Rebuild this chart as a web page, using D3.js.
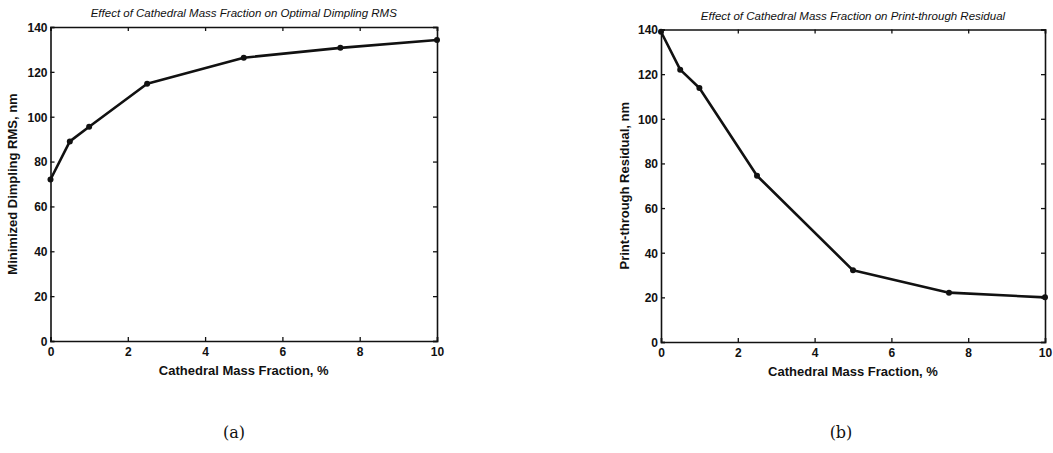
<!DOCTYPE html>
<html>
<head>
<meta charset="utf-8">
<script src="https://cdn.jsdelivr.net/npm/d3@7"></script>
<style>
  html, body { margin: 0; padding: 0; background: #fff; }
  svg { display: block; }
  .tick text { font-family: "Liberation Sans", Arial, sans-serif; font-weight: bold; font-size: 12px; fill: #111; }
</style>
</head>
<body>
<svg id="chart" width="1053" height="453"></svg>
<script>
// Cathedral mass fraction (%) sampled in both studies
const massFraction = [0, 0.5, 1, 2.5, 5, 7.5, 10];
// (a) minimized dimpling RMS, nm
const dimplingRMS = [72, 89, 95.5, 114.7, 126.3, 130.7, 134.2];
// (b) print-through residual, nm
const printThrough = [139, 122, 113.8, 74.5, 32.1, 22.1, 20];

const xTicks = [0, 2, 4, 6, 8, 10];
const yTicks = [0, 20, 40, 60, 80, 100, 120, 140];

const panels = [
  {
    title: "Effect of Cathedral Mass Fraction on Optimal Dimpling RMS",
    yLabel: "Minimized Dimpling RMS, nm",
    caption: "(a)",
    values: dimplingRMS,
    left: 50.5, right: 437, top: 27, bottom: 341,
    yLabelX: 12, captionX: 234
  },
  {
    title: "Effect of Cathedral Mass Fraction on Print-through Residual",
    yLabel: "Print-through Residual, nm",
    caption: "(b)",
    values: printThrough,
    left: 661, right: 1045, top: 29.5, bottom: 342,
    yLabelX: 624, captionX: 841
  }
];

const svg = d3.select("#chart");

panels.forEach(p => {
  const x = d3.scaleLinear().domain([0, 10]).range([p.left, p.right]);
  const y = d3.scaleLinear().domain([0, 140]).range([p.bottom, p.top]);
  const g = svg.append("g");

  // inward ticks on all four sides (boxed axes)
  const axB = g.append("g").attr("transform", `translate(0,${p.bottom})`)
    .call(d3.axisBottom(x).tickValues(xTicks).tickSize(-4).tickPadding(4).tickFormat(d3.format("d")));
  const axT = g.append("g").attr("transform", `translate(0,${p.top})`)
    .call(d3.axisTop(x).tickValues(xTicks).tickSize(-4).tickFormat(""));
  const axL = g.append("g").attr("transform", `translate(${p.left},0)`)
    .call(d3.axisLeft(y).tickValues(yTicks).tickSize(-4).tickPadding(3).tickFormat(d3.format("d")));
  const axR = g.append("g").attr("transform", `translate(${p.right},0)`)
    .call(d3.axisRight(y).tickValues(yTicks).tickSize(-4).tickFormat(""));

  [axB, axT, axL, axR].forEach(a => {
    a.select(".domain").attr("stroke", "#111").attr("stroke-width", 1.6);
    a.selectAll(".tick line").attr("stroke", "#111").attr("stroke-width", 1.3);
  });
  axB.selectAll(".tick text").attr("dy", "0.9em");
  axL.selectAll(".tick text").attr("dy", "0.36em");

  // title
  g.append("text")
    .attr("x", (p.left + p.right) / 2).attr("y", p.top - 10)
    .attr("text-anchor", "middle")
    .style("font-family", "'Liberation Sans', Arial, sans-serif")
    .style("font-style", "italic").style("font-size", "11.5px").style("fill", "#111")
    .text(p.title);

  // axis labels
  g.append("text")
    .attr("x", (p.left + p.right) / 2).attr("y", p.bottom + 34)
    .attr("text-anchor", "middle")
    .style("font-family", "'Liberation Sans', Arial, sans-serif")
    .style("font-weight", "bold").style("font-size", "13px").style("fill", "#111")
    .text("Cathedral Mass Fraction, %");

  g.append("text")
    .attr("transform", `translate(${p.yLabelX},${(p.top + p.bottom) / 2}) rotate(-90)`)
    .attr("text-anchor", "middle").attr("dy", "0.35em")
    .style("font-family", "'Liberation Sans', Arial, sans-serif")
    .style("font-weight", "bold").style("font-size", "13px").style("fill", "#111")
    .text(p.yLabel);

  // data line with point markers
  const pts = massFraction.map((m, i) => [m, p.values[i]]);
  g.append("path")
    .datum(pts)
    .attr("fill", "none").attr("stroke", "#111").attr("stroke-width", 2.6)
    .attr("stroke-linejoin", "round")
    .attr("d", d3.line().x(d => x(d[0])).y(d => y(d[1])));
  g.selectAll("circle.pt").data(pts).enter().append("circle")
    .attr("class", "pt")
    .attr("cx", d => x(d[0])).attr("cy", d => y(d[1])).attr("r", 3)
    .attr("fill", "#111");

  // panel caption
  g.append("text")
    .attr("x", p.captionX).attr("y", 438)
    .attr("text-anchor", "middle")
    .style("font-family", "'DejaVu Serif', 'Liberation Serif', serif")
    .style("font-size", "16px").style("fill", "#111")
    .text(p.caption);
});
</script>
</body>
</html>
